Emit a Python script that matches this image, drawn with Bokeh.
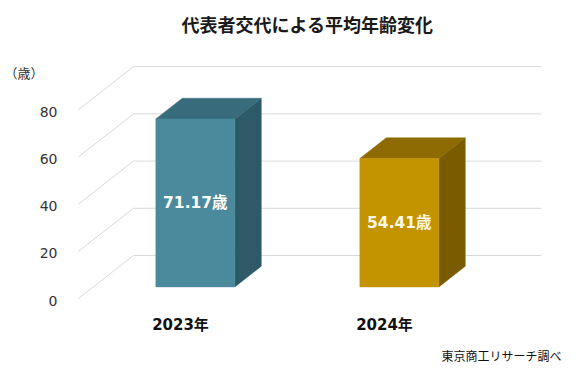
from bokeh.plotting import figure
from bokeh.models import Range1d, Label
from bokeh.embed import file_html
from bokeh.resources import INLINE
from bokeh.core.properties import value

# ---- data ----
years = ["2023年", "2024年"]
ages = [71.17, 54.41]
age_labels = ["71.17歳", "54.41歳"]
y_ticks = [0, 20, 40, 60, 80]
tick_labels = ["0", "20", "40", "60", "80"]
title_text = "代表者交代による平均年齢変化"
unit_text = "（歳）"
source_text = "東京商工リサーチ調べ"

# ---- style ----
front_colors = ["#4A8A9C", "#C39300"]
top_colors = ["#386C7C", "#8E6B00"]
side_colors = ["#2E5967", "#7A5C00"]
label_colors = ["#FFFFFF", "#FFF9E6"]
FONT = "Noto Sans CJK JP"
NUM_FONT = "DejaVu Sans, Noto Sans CJK JP"

W, H = 584, 378
PX_X = 204.0    # pixels per category
PX_Y = 2.36     # pixels per year of age
X0 = 180.0      # pixel of first category (front plane)
Y0 = 298.0      # pixel of 0 (front plane)
DX = 55.0 / PX_X  # full depth offset (x, data units)
DY = 43.0 / PX_Y  # full depth offset (y, data units)
D_FRONT, D_BACK = 0.27, 0.75
HALF_W = 39.5 / PX_X

p = figure(width=W, height=H,
           x_range=Range1d(-X0 / PX_X, (W - X0) / PX_X),
           y_range=Range1d(-(H - Y0) / PX_Y, Y0 / PX_Y),
           output_backend="svg", toolbar_location=None, min_border=0)
p.xaxis.visible = False
p.yaxis.visible = False
p.grid.visible = False
p.outline_line_color = None
p.background_fill_color = "white"
p.border_fill_color = "white"

n = len(years)
left_edge = -0.5
right_edge = n - 0.5

# gridlines: front-left diagonal to back wall, then along back wall
gxs, gys = [], []
for t in y_ticks:
    gxs.append([left_edge, left_edge + DX, right_edge + DX])
    gys.append([t, t + DY, t + DY])
p.multi_line(gxs, gys, line_color="#D9D9D9", line_width=1)

# tick labels
p.text(x=[left_edge] * len(y_ticks), y=y_ticks, text=tick_labels,
       text_font=value(NUM_FONT), text_font_size="14px", text_color="#333333",
       text_align="right", text_baseline="middle", x_offset=-21, y_offset=2)

# bars (3D)
dd = D_BACK - D_FRONT
for i, v in enumerate(ages):
    cx = i + D_FRONT * DX
    L, R = cx - HALF_W, cx + HALF_W
    B, T = D_FRONT * DY, v + D_FRONT * DY
    ox, oy = dd * DX, dd * DY
    # side face
    p.patch([R, R, R + ox, R + ox], [B, T, T + oy, B + oy],
            fill_color=side_colors[i], line_color=side_colors[i], line_width=0.5)
    # top face
    p.patch([L, R, R + ox, L + ox], [T, T, T + oy, T + oy],
            fill_color=top_colors[i], line_color=top_colors[i], line_width=0.5)
    # front face
    p.quad(left=[L], right=[R], bottom=[B], top=[T],
           fill_color=front_colors[i], line_color=front_colors[i], line_width=0.5)
    # value label
    p.text(x=[cx], y=[(B + T) / 2], text=[age_labels[i]],
           text_font=value(NUM_FONT), text_font_size="15.5px", text_font_style="bold",
           text_color=label_colors[i], text_align="center", text_baseline="middle")

# category labels
p.text(x=list(range(n)), y=[0] * n, text=years,
       text_font=value(NUM_FONT), text_font_size="15px", text_font_style="bold",
       text_color="#111111", text_align="center", text_baseline="middle", y_offset=26)

# title, unit, source
p.add_layout(Label(x=307, y=H - 23, x_units="screen", y_units="screen", text=title_text,
                   text_font=FONT, text_font_size="18px", text_font_style="bold",
                   text_color="#1A1A1A", text_align="center", text_baseline="middle"))
p.add_layout(Label(x=4, y=H - 72, x_units="screen", y_units="screen", text=unit_text,
                   text_font=FONT, text_font_size="13px",
                   text_color="#333333", text_align="left", text_baseline="middle"))
p.add_layout(Label(x=561, y=H - 355, x_units="screen", y_units="screen", text=source_text,
                   text_font=FONT, text_font_size="12px",
                   text_color="#111111", text_align="right", text_baseline="middle"))

open("out.html", "w").write(file_html(p, INLINE))
